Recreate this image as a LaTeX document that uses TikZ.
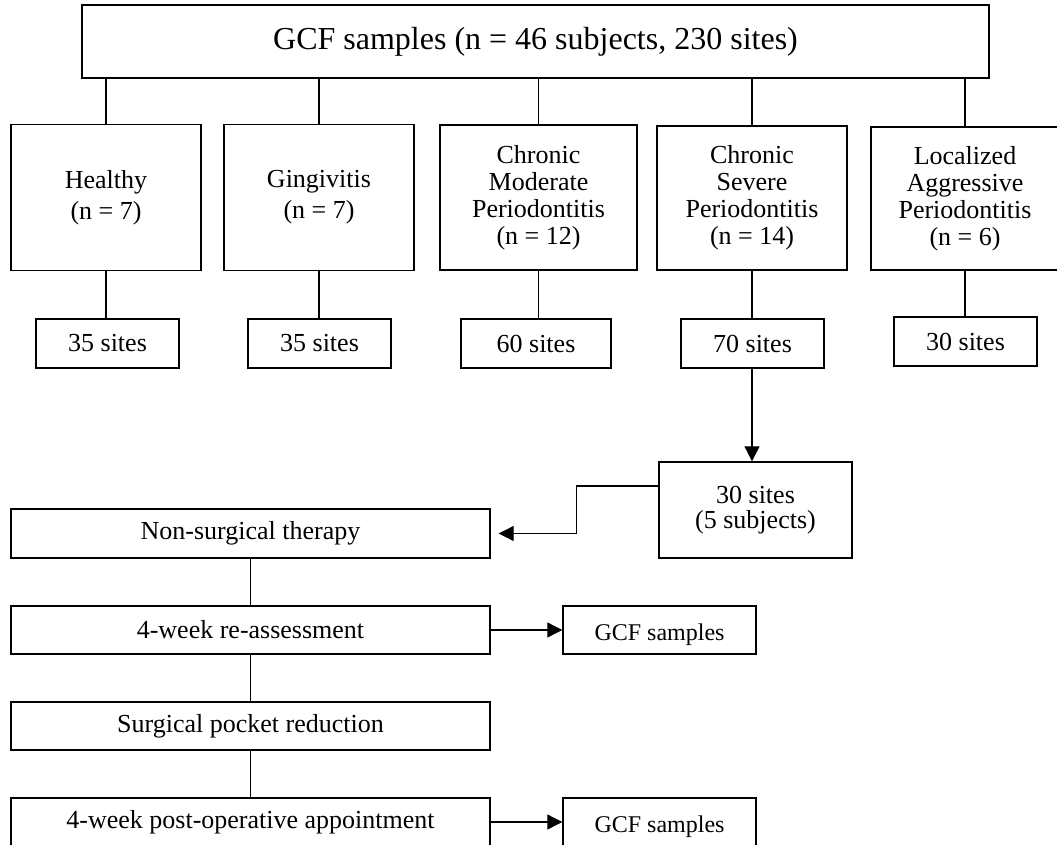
\documentclass[tikz,border=0pt]{standalone}
\usepackage{fontspec}
\setmainfont{Liberation Serif}
\usetikzlibrary{arrows.meta}
\tikzset{
  box/.style={draw, line width=1.4pt, inner sep=0pt, align=center, fill=white},
  conn/.style={line width=1.1pt},
  arr/.style={line width=1.1pt, -{Triangle[length=15pt,width=15pt]}},
  txt/.style={font=\fontsize{26}{27}\selectfont},
  gcf/.style={box, minimum width=193pt, minimum height=48pt, font=\fontsize{24}{26}\selectfont, text height=20pt, text depth=0pt},
}
\begin{document}
\begin{tikzpicture}[x=1pt,y=-1pt]
\useasboundingbox (0,0) rectangle (1057,845);
\clip (0,0) rectangle (1057,845);
% top
\node[box, minimum width=907pt, minimum height=73pt, font=\fontsize{32}{34}\selectfont] (top) at (535.5,41.5) {GCF samples (n = 46 subjects, 230 sites)};
% categories
\node[box, minimum width=190pt, minimum height=146pt, font=\fontsize{26}{31}\selectfont] (h) at (106,197.5) {Healthy\\(n = 7)};
\node[box, minimum width=190pt, minimum height=146pt, font=\fontsize{26}{31}\selectfont] (g) at (319,197.5) {Gingivitis\\(n = 7)};
\node[box, minimum width=197pt, minimum height=145pt, font=\fontsize{26}{27}\selectfont] (cm) at (538.5,197.5) {Chronic\\Moderate\\Periodontitis\\(n = 12)};
\node[box, minimum width=190pt, minimum height=144pt, font=\fontsize{26}{27}\selectfont] (cs) at (752,198) {Chronic\\Severe\\Periodontitis\\(n = 14)};
\node[box, minimum width=188pt, minimum height=143pt, font=\fontsize{26}{27}\selectfont] (la) at (965,198.5) {Localized\\Aggressive\\Periodontitis\\(n = 6)};
% sites
\node[box, txt, minimum width=143pt, minimum height=49pt] (hs) at (107.5,343.5) {35 sites};
\node[box, txt, minimum width=143pt, minimum height=49pt] (gs) at (319.5,343.5) {35 sites};
\node[box, txt, minimum width=150pt, minimum height=49pt] (cms) at (536,343.5) {60 sites};
\node[box, txt, minimum width=143pt, minimum height=49pt] (css) at (752.5,343.5) {70 sites};
\node[box, txt, minimum width=143pt, minimum height=49pt] (las) at (965.5,341.5) {30 sites};
% 30 sites
\node[box, minimum width=193pt, minimum height=96pt, font=\fontsize{26}{25}\selectfont] (s30) at (755.5,510) {30 sites\\(5 subjects)};
% left chain
\node[box, txt, minimum width=479pt, minimum height=49pt] (ns) at (250.5,533.5) {Non-surgical therapy};
\node[box, txt, minimum width=479pt, minimum height=48pt] (ra) at (250.5,630) {4-week re-assessment};
\node[box, txt, minimum width=479pt, minimum height=48pt] (sp) at (250.5,726) {Surgical pocket reduction};
\node[box, txt, minimum width=479pt, minimum height=48pt] (po) at (250.5,822) {4-week post-operative appointment};
\node[gcf] (g1) at (659.5,630) {GCF samples};
\node[gcf] (g2) at (659.5,822) {GCF samples};
% connectors
\foreach \n in {h,g,cm,cs,la} {
  \draw[conn] (\n.north) -- (\n.north |- top.south);
}
\draw[conn] (h.south) -- (h.south |- hs.north);
\draw[conn] (g.south) -- (g.south |- gs.north);
\draw[conn] (cm.south) -- (cm.south |- cms.north);
\draw[conn] (cs.south) -- (cs.south |- css.north);
\draw[conn] (la.south) -- (la.south |- las.north);
\draw[arr] (css.south -| cs.south) -- (cs.south |- s30.north);
\draw[arr] ([yshift=24pt]s30.west) -- ++(-82,0) |- ([xshift=8pt]ns.east);
\draw[conn] (ns.south) -- (ra.north);
\draw[conn] (ra.south) -- (sp.north);
\draw[conn] (sp.south) -- (po.north);
\draw[arr] (ra.east) -- (g1.west);
\draw[arr] (po.east) -- (g2.west);
\end{tikzpicture}
\end{document}
